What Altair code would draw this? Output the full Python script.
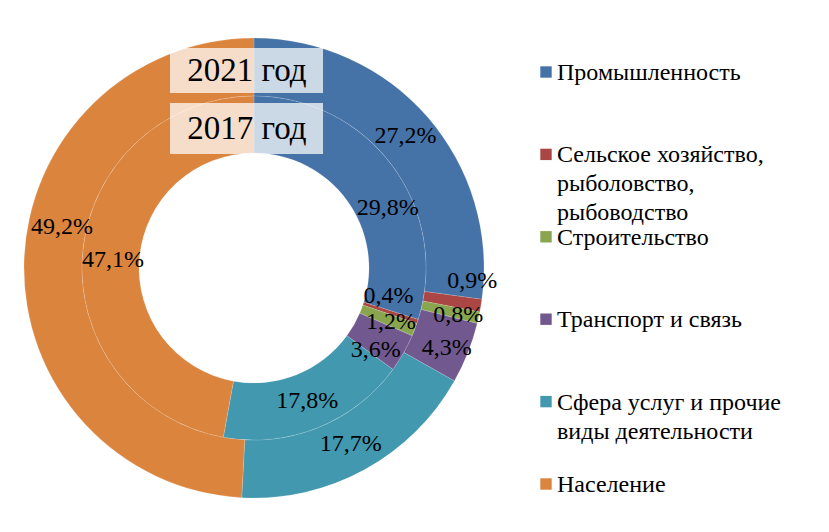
import altair as alt
import pandas as pd

# ---- data ----
categories = [
    "Промышленность",
    "Сельское хозяйство, рыболовство, рыбоводство",
    "Строительство",
    "Транспорт и связь",
    "Сфера услуг и прочие виды деятельности",
    "Население",
]
legend_labels = [
    "Промышленность",
    "Сельское  хозяйство,\nрыболовство,\nрыбоводство",
    "Строительство",
    "Транспорт и связь",
    "Сфера услуг  и прочие\nвиды деятельности",
    "Население",
]
values_2021 = [27.2, 0.9, 0.8, 4.3, 17.7, 49.2]   # outer ring
values_2017 = [29.8, 0.4, 1.2, 3.6, 17.8, 47.1]   # inner ring
ring_titles = ["2021 год", "2017 год"]

# ---- styling ----
colors = ["#4572A7", "#AA4643", "#89A54E", "#71588F", "#4198AF", "#DB843D"]
FONT = "Liberation Serif"
CX, CY = 254, 268
R_OUT, R_MID, R_IN = 230, 172, 115

# manual label nudges (labels moved by hand in the original), by (ring, category index)
nudges = {
    ("2021 год", 1): (20, -20),
    ("2021 год", 2): (8, 4),
    ("2021 год", 3): (6, 6),
    ("2021 год", 5): (9, -36),
    ("2017 год", 0): (18, 25),
    ("2017 год", 1): (-2, -17),
    ("2017 год", 2): (3, 3),
    ("2017 год", 3): (-3, 11),
    ("2017 год", 5): (2, 5),
}

rows = []
for ring, vals in zip(ring_titles, [values_2021, values_2017]):
    for i, (c, v) in enumerate(zip(categories, vals)):
        dx, dy = nudges.get((ring, i), (0, 0))
        rows.append({
            "ring": ring, "cat": c, "order": i, "value": v,
            "label": f"{v:.1f}".replace(".", ",") + "%",
            "key": f"{ring}|{i}", "dx": dx, "dy": dy,
        })
df = pd.DataFrame(rows)

color = alt.Color("cat:N", scale=alt.Scale(domain=categories, range=colors), legend=None)
theta_scale = alt.Scale(domain=[0, 1], range=[0, 6.283185307179586])

base = alt.Chart(df).transform_stack(
    stack="value", groupby=["ring"], sort=[alt.SortField("order")],
    as_=["s0", "s1"], offset="normalize",
).transform_calculate(mid="(datum.s0 + datum.s1) / 2")

layers = []
for ring, r1, r2 in [("2021 год", R_OUT, R_MID), ("2017 год", R_MID, R_IN)]:
    layers.append(
        base.transform_filter(alt.datum.ring == ring).mark_arc(
            radius=r1, radius2=r2, stroke="white", strokeWidth=0.5, strokeOpacity=0.3
        ).encode(
            x=alt.value(CX), y=alt.value(CY),
            theta=alt.Theta("s0:Q", scale=theta_scale),
            theta2="s1:Q",
            color=color,
        )
    )

for ring, rl in [("2021 год", (R_OUT + R_MID) / 2), ("2017 год", (R_MID + R_IN) / 2)]:
    sub = df[df.ring == ring]
    for (dx, dy), g in sub.groupby(["dx", "dy"]):
        keys = list(g["key"])
        layers.append(
            base.transform_filter(alt.FieldOneOfPredicate(field="key", oneOf=keys)).mark_text(
                radius=rl, font=FONT, fontSize=24, color="black",
                dx=int(dx), dy=int(dy), align="center", baseline="middle",
            ).encode(
                x=alt.value(CX), y=alt.value(CY),
                theta=alt.Theta("mid:Q", scale=theta_scale),
                text="label:N",
            )
        )

# ring title boxes
box_df = pd.DataFrame({"t": ring_titles, "y1": [48, 103], "y2": [93, 154]})
boxes = alt.Chart(box_df).mark_rect(color="white", opacity=0.72).encode(
    x=alt.value(170), x2=alt.value(323),
    y=alt.Y("y1:Q", scale=None), y2="y2:Q",
)
box_text = alt.Chart(box_df).mark_text(font=FONT, fontSize=33, color="black", baseline="middle").encode(
    x=alt.value(247),
    y=alt.Y("yc:Q", scale=None),
    text="t:N",
).transform_calculate(yc="(datum.y1 + datum.y2) / 2")

# legend
leg_df = pd.DataFrame({"cat": categories, "lab": legend_labels})
yleg = alt.Y("cat:N", scale=alt.Scale(domain=categories, range=[72, 484], padding=0), axis=None)
leg_sq = alt.Chart(leg_df).mark_square(size=130, opacity=1).encode(
    x=alt.value(546), y=yleg, color=color,
)
leg_tx = alt.Chart(leg_df).mark_text(
    font=FONT, fontSize=24, align="left", baseline="alphabetic", dy=8,
    lineBreak="\n", lineHeight=29, color="black",
).encode(x=alt.value(557), y=yleg, text="lab:N")

chart = alt.layer(*layers, boxes, box_text, leg_sq, leg_tx).properties(
    width=829, height=532, padding=0, autosize=alt.AutoSizeParams(type="none"),
    background="white",
).configure_view(stroke=None)

chart.save("out.html", embed_options={"renderer": "svg", "actions": False})
